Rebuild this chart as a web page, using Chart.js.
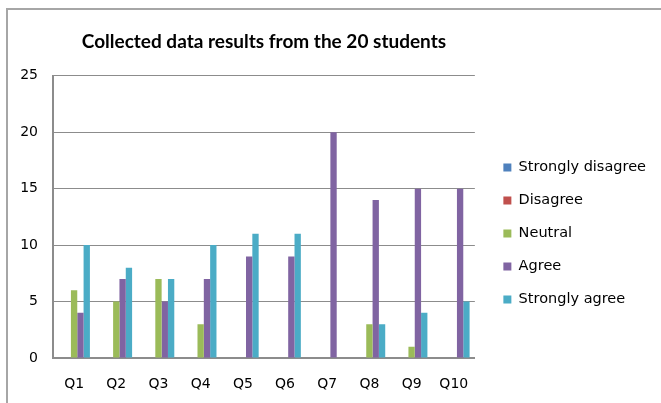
<!DOCTYPE html>
<html>
<head>
<meta charset="utf-8">
<script src="https://cdn.jsdelivr.net/npm/chart.js@4/dist/chart.umd.min.js"></script>
<style>
  html, body { margin: 0; padding: 0; background: #fff; }
  #wrap { width: 661px; height: 403px; position: relative; }
</style>
</head>
<body>
<div id="wrap"><canvas id="c" width="661" height="403"></canvas></div>
<script>
const categories = ["Q1", "Q2", "Q3", "Q4", "Q5", "Q6", "Q7", "Q8", "Q9", "Q10"];
const stronglyDisagree = [0, 0, 0, 0, 0, 0, 0, 0, 0, 0];
const disagree = [0, 0, 0, 0, 0, 0, 0, 0, 0, 0];
const neutral = [6, 5, 7, 3, 0, 0, 0, 3, 1, 0];
const agree = [4, 7, 5, 7, 9, 9, 20, 14, 15, 15];
const stronglyAgree = [10, 8, 7, 10, 11, 11, 0, 3, 4, 5];
const yTicks = [0, 5, 10, 15, 20, 25];

const seriesNames = ["Strongly disagree", "Disagree", "Neutral", "Agree", "Strongly agree"];
const seriesData = [stronglyDisagree, disagree, neutral, agree, stronglyAgree];
const seriesColors = ["#4F81BD", "#C0504D", "#9BBB59", "#8064A2", "#4BACC6"];

const frame = {
  id: 'frame',
  beforeDraw(chart) {
    const ctx = chart.ctx;
    ctx.save();
    ctx.fillStyle = '#fff';
    ctx.fillRect(0, 0, chart.width, chart.height);
    ctx.strokeStyle = '#a6a6a6';
    ctx.lineWidth = 2;
    ctx.beginPath();
    ctx.moveTo(7, chart.height);
    ctx.lineTo(7, 9);
    ctx.lineTo(chart.width, 9);
    ctx.stroke();
    ctx.restore();
  }
};

function build() {
  new Chart(document.getElementById('c'), {
    type: 'bar',
    data: {
      labels: categories,
      datasets: seriesNames.map((n, i) => ({
        label: n,
        data: seriesData[i],
        backgroundColor: seriesColors[i],
        borderWidth: 0,
        barPercentage: 1,
        categoryPercentage: 0.75
      }))
    },
    options: {
      responsive: false,
      animation: false,
      devicePixelRatio: 1,
      layout: { padding: { top: 30, left: 20, right: 5, bottom: 5 } },
      plugins: {
        title: {
          display: true,
          fullSize: false,
          text: 'Collected data results from the 20 students',
          color: '#000',
          font: { family: 'Lato', size: 19, weight: 'bold' },
          padding: { top: 0, bottom: 23 },
          align: 'center'
        },
        legend: {
          position: 'right',
          maxWidth: 300,
          title: { display: true, text: ' ', font: { size: 14 }, padding: { top: 0, bottom: 22 } },
          labels: {
            boxWidth: 8,
            boxHeight: 8,
            padding: 18.5,
            color: '#000',
            font: { family: 'DejaVu Sans', size: 14.5 }
          }
        },
        tooltip: { enabled: false }
      },
      scales: {
        x: {
          grid: { display: false, drawTicks: false },
          border: { display: true, color: '#8c8c8c', width: 2 },
          ticks: { color: '#000', padding: 18, font: { family: 'DejaVu Sans', size: 14 } },
          afterFit: s => { s.height = 40; }
        },
        y: {
          min: 0, max: 25,
          afterBuildTicks: s => { s.ticks = yTicks.map(v => ({ value: v })); },
          grid: { display: true, color: '#8c8c8c', lineWidth: 1, drawTicks: false },
          border: { display: true, color: '#8c8c8c', width: 2 },
          ticks: { color: '#000', padding: 15, font: { family: 'DejaVu Sans', size: 14 } },
          afterFit: s => { s.width = 33; }
        },
        gap: {
          position: 'right',
          display: true,
          grid: { display: false, drawTicks: false },
          border: { display: false },
          ticks: { display: false },
          afterFit: s => { s.width = 10; }
        }
      }
    },
    plugins: [frame]
  });
}

const fontLoads = [
  'bold 19px Lato', '14px "DejaVu Sans"'
].map(f => document.fonts.load(f).catch(() => null));
Promise.all(fontLoads).then(build, build);
</script>
</body>
</html>
